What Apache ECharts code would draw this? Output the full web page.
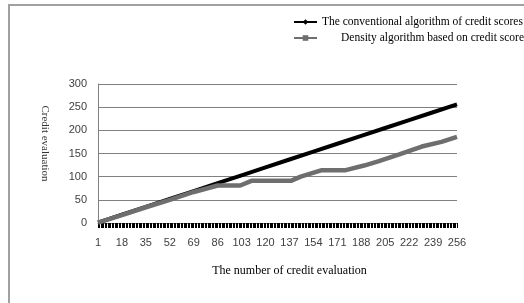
<!DOCTYPE html>
<html lang="en">
<head>
    <meta charset="UTF-8">
    <title>Credit evaluation</title>
    <script src="https://cdn.jsdelivr.net/npm/echarts@6.0.0/dist/echarts.min.js"></script>
    <style>
        html, body { margin: 0; padding: 0; background: #fff; }
        #main { width: 524px; height: 303px; }
    </style>
</head>
<body>
    <div id="main"></div>
    <script type="text/javascript">
        // x axis: number of credit evaluations 1..256, label every 17
        const categories = Array.from({ length: 256 }, (_, i) => String(i + 1));

        // conventional algorithm, read at the labelled positions
        const conventionalX = ['1', '18', '35', '52', '69', '86', '103', '120', '137', '154', '171', '188', '205', '222', '239', '256'];
        const conventionalY = [1, 18, 35, 52, 69, 86, 103, 120, 137, 154, 171, 188, 205, 222, 239, 256];

        // density algorithm, read at the bends of the grey line
        const densityX = ['1', '18', '35', '52', '69', '86', '102', '110', '138', '145', '160', '177', '190', '200', '215', '231', '245', '256'];
        const densityY = [1, 17, 34, 50, 67, 81, 81, 91, 91, 100, 114, 114, 124, 133, 148, 165, 175, 186];

        const seriesNames = ['The conventional algorithm of credit scores', 'Density algorithm based on credit scores'];

        const serif = 'Liberation Serif';

        var chart = echarts.init(document.getElementById('main'));
        var option = {
            animation: false,
            graphic: [{
                type: 'rect',
                shape: { x: 9, y: 5, width: 540, height: 320 },
                style: { fill: 'none', stroke: '#a0a0a0', lineWidth: 2 },
                silent: true
            }],
            legend: [{
                data: [seriesNames[0]],
                left: 288, top: 11,
                itemWidth: 23, itemHeight: 7,
                textStyle: { fontFamily: serif, fontSize: 11.5, color: '#000' }
            }, {
                data: [seriesNames[1]],
                left: 288, top: 27,
                itemWidth: 23, itemHeight: 7,
                textStyle: { fontFamily: serif, fontSize: 11.5, color: '#000', padding: [0, 0, 0, 19] }
            }],
            grid: { left: 98, right: 67, top: 84, bottom: 80 },
            xAxis: {
                type: 'category',
                data: categories,
                boundaryGap: false,
                name: 'The number of credit evaluation',
                nameLocation: 'middle',
                nameGap: 42,
                nameTextStyle: { fontFamily: serif, fontSize: 12, color: '#000', padding: [0, 0, 0, 24] },
                axisLine: { lineStyle: { color: '#808080' } },
                axisTick: { interval: 0, length: 5, lineStyle: { color: '#000' } },
                axisLabel: { interval: 16, margin: 14, fontFamily: 'Liberation Sans', fontSize: 11, color: '#404040' }
            },
            yAxis: {
                type: 'value',
                min: 0, max: 300, interval: 50,
                name: 'Credit evaluation',
                nameLocation: 'middle',
                nameRotate: -90,
                nameGap: 48,
                nameTextStyle: { fontFamily: serif, fontSize: 11, color: '#333', padding: [0, 20, 0, 0] },
                axisLine: { show: true, lineStyle: { color: '#808080' } },
                axisTick: { show: false },
                axisLabel: { margin: 11, fontFamily: 'Liberation Sans', fontSize: 11, color: '#404040' },
                splitLine: { lineStyle: { color: '#808080' } }
            },
            series: [{
                name: seriesNames[0],
                type: 'line',
                symbol: 'diamond',
                symbolSize: 7,
                showSymbol: false,
                data: conventionalX.map((c, i) => [c, conventionalY[i]]),
                itemStyle: { color: '#000' },
                lineStyle: { color: '#000', width: 4 },
                z: 2
            }, {
                name: seriesNames[1],
                type: 'line',
                symbol: 'rect',
                symbolSize: 6,
                showSymbol: false,
                data: densityX.map((c, i) => [c, densityY[i]]),
                itemStyle: { color: '#6e6e6e' },
                lineStyle: { color: '#6e6e6e', width: 4.5 },
                z: 3
            }]
        };
        chart.setOption(option);
    </script>
</body>
</html>
